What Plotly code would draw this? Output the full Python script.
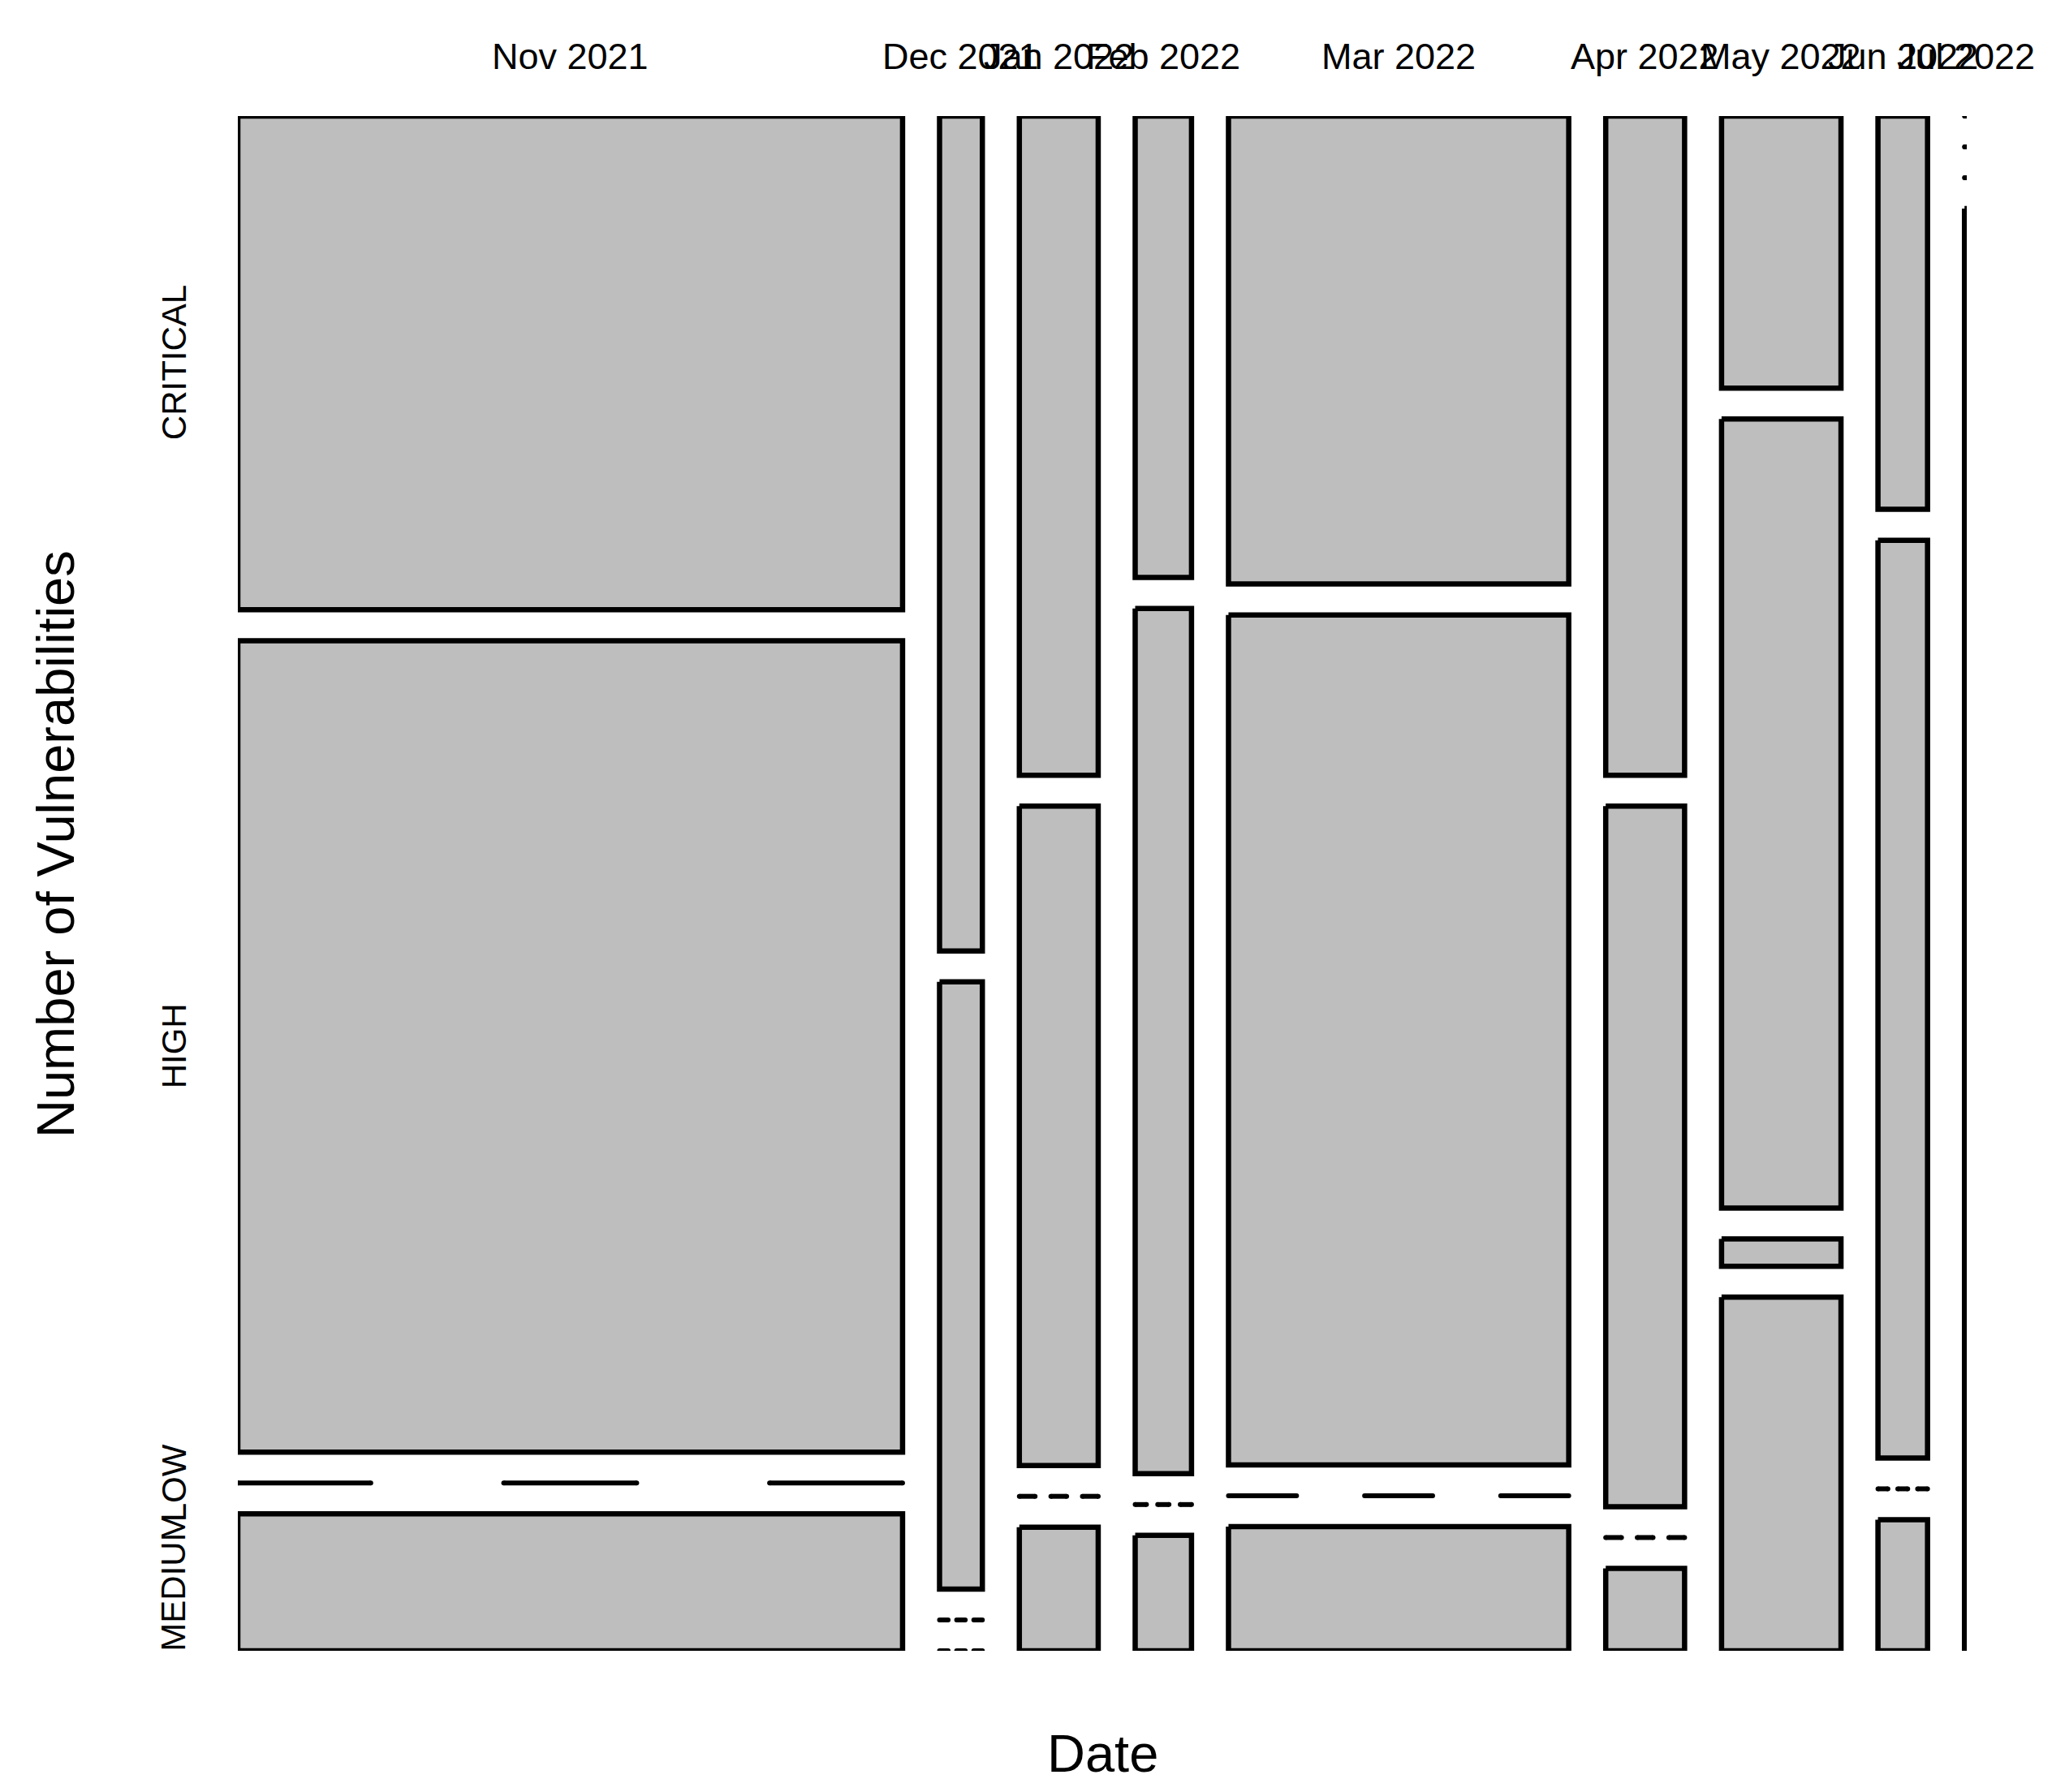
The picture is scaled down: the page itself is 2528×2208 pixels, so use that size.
import plotly.graph_objects as go

# Monthly vulnerability counts by severity (mosaic: column width = month total,
# cell height = share of that month's total)
months = ["Nov 2021", "Dec 2021", "Jan 2022", "Feb 2022", "Mar 2022",
          "Apr 2022", "May 2022", "Jun 2022", "Jul 2022"]
severities = ["CRITICAL", "HIGH", "LOW", "MEDIUM"]

critical = [101, 11, 16, 8, 49, 16, 10, 6, 0]
high = [166, 8, 16, 15, 89, 17, 29, 14, 0]
low = [0, 0, 0, 0, 0, 0, 1, 0, 0]
medium = [28, 0, 3, 2, 13, 2, 13, 2, 1]

counts = [critical, high, low, medium]

# ---- styling ----
FILL = "#BEBEBE"
EDGE = "black"
EDGE_W = 6.5
DASH_W = 6
CAP = 6                      # round-cap size at dash ends
FONT = "Liberation Sans"

W, H = 2528, 2208
M_L, M_R, M_T, M_B = 293, 105, 143, 174

col_tot = [sum(c[j] for c in counts) for j in range(len(months))]
N = sum(col_tot)
GAP_X = 0.0258 * N          # horizontal spacing between months (count units)
GAP_Y = 0.0214              # vertical spacing between severities (share units)
X_TOTAL = N + GAP_X * (len(months) - 1)
Y_TOTAL = 1 + GAP_Y * (len(severities) - 1)

fig = go.Figure()

col_centers = []
nov_centers = []
x = 0.0
for j, month in enumerate(months):
    xl, xr = x, x + col_tot[j]
    col_centers.append((xl + xr) / 2)
    y = 0.0
    for i, sev in enumerate(severities):
        n = counts[i][j]
        h = n / col_tot[j]
        if n > 0:
            fig.add_trace(go.Scatter(
                x=[xl, xr, xr, xl, xl], y=[y, y, y + h, y + h, y],
                mode="lines", fill="toself", fillcolor=FILL,
                line=dict(color=EDGE, width=EDGE_W),
                hoverinfo="skip", showlegend=False))
        else:
            # empty cell: dashed line across the column
            w = xr - xl
            xs, ys = [], []
            for k in (0, 2, 4):
                xs += [xl + k * w / 5, xl + (k + 1) * w / 5, None]
                ys += [y, y, None]
            fig.add_trace(go.Scatter(
                x=xs, y=ys, mode="lines+markers",
                line=dict(color=EDGE, width=DASH_W),
                marker=dict(color=EDGE, size=CAP, line=dict(width=0)),
                hoverinfo="skip", showlegend=False))
        if j == 0:
            nov_centers.append(y + h / 2)
        y += h + GAP_Y
    x = xr + GAP_X

plot_w = W - M_L - M_R
plot_h = H - M_T - M_B

# month labels along the top
for month, cx in zip(months, col_centers):
    fig.add_annotation(x=cx, xref="x", y=1 + (M_T - 69) / plot_h, yref="paper",
                       text=month, showarrow=False, xanchor="center", yanchor="middle",
                       font=dict(family=FONT, size=45, color="black"))

# severity labels along the left, aligned with the first month's cells
for sev, cy in zip(severities, nov_centers):
    fig.add_annotation(x=(214 - M_L) / plot_w, xref="paper", y=cy, yref="y",
                       text=sev, showarrow=False, textangle=-90,
                       xanchor="center", yanchor="middle",
                       font=dict(family=FONT, size=42, color="black"))

# axis titles
fig.add_annotation(x=(68 - M_L) / plot_w, xref="paper",
                   y=1 - (1040 - M_T) / plot_h, yref="paper",
                   text="Number of Vulnerabilities", showarrow=False, textangle=-90,
                   xanchor="center", yanchor="middle",
                   font=dict(family=FONT, size=65, color="black"))
fig.add_annotation(x=0.5, xref="paper", y=-(2160 - (H - M_B)) / plot_h, yref="paper",
                   text="Date", showarrow=False, xanchor="center", yanchor="middle",
                   font=dict(family=FONT, size=65, color="black"))

fig.update_xaxes(range=[0, X_TOTAL], visible=False, fixedrange=True)
fig.update_yaxes(range=[Y_TOTAL, 0], visible=False, fixedrange=True)
fig.update_layout(
    width=W, height=H,
    margin=dict(l=M_L, r=M_R, t=M_T, b=M_B),
    plot_bgcolor="white", paper_bgcolor="white",
    showlegend=False,
)

fig.write_html("out.html")
